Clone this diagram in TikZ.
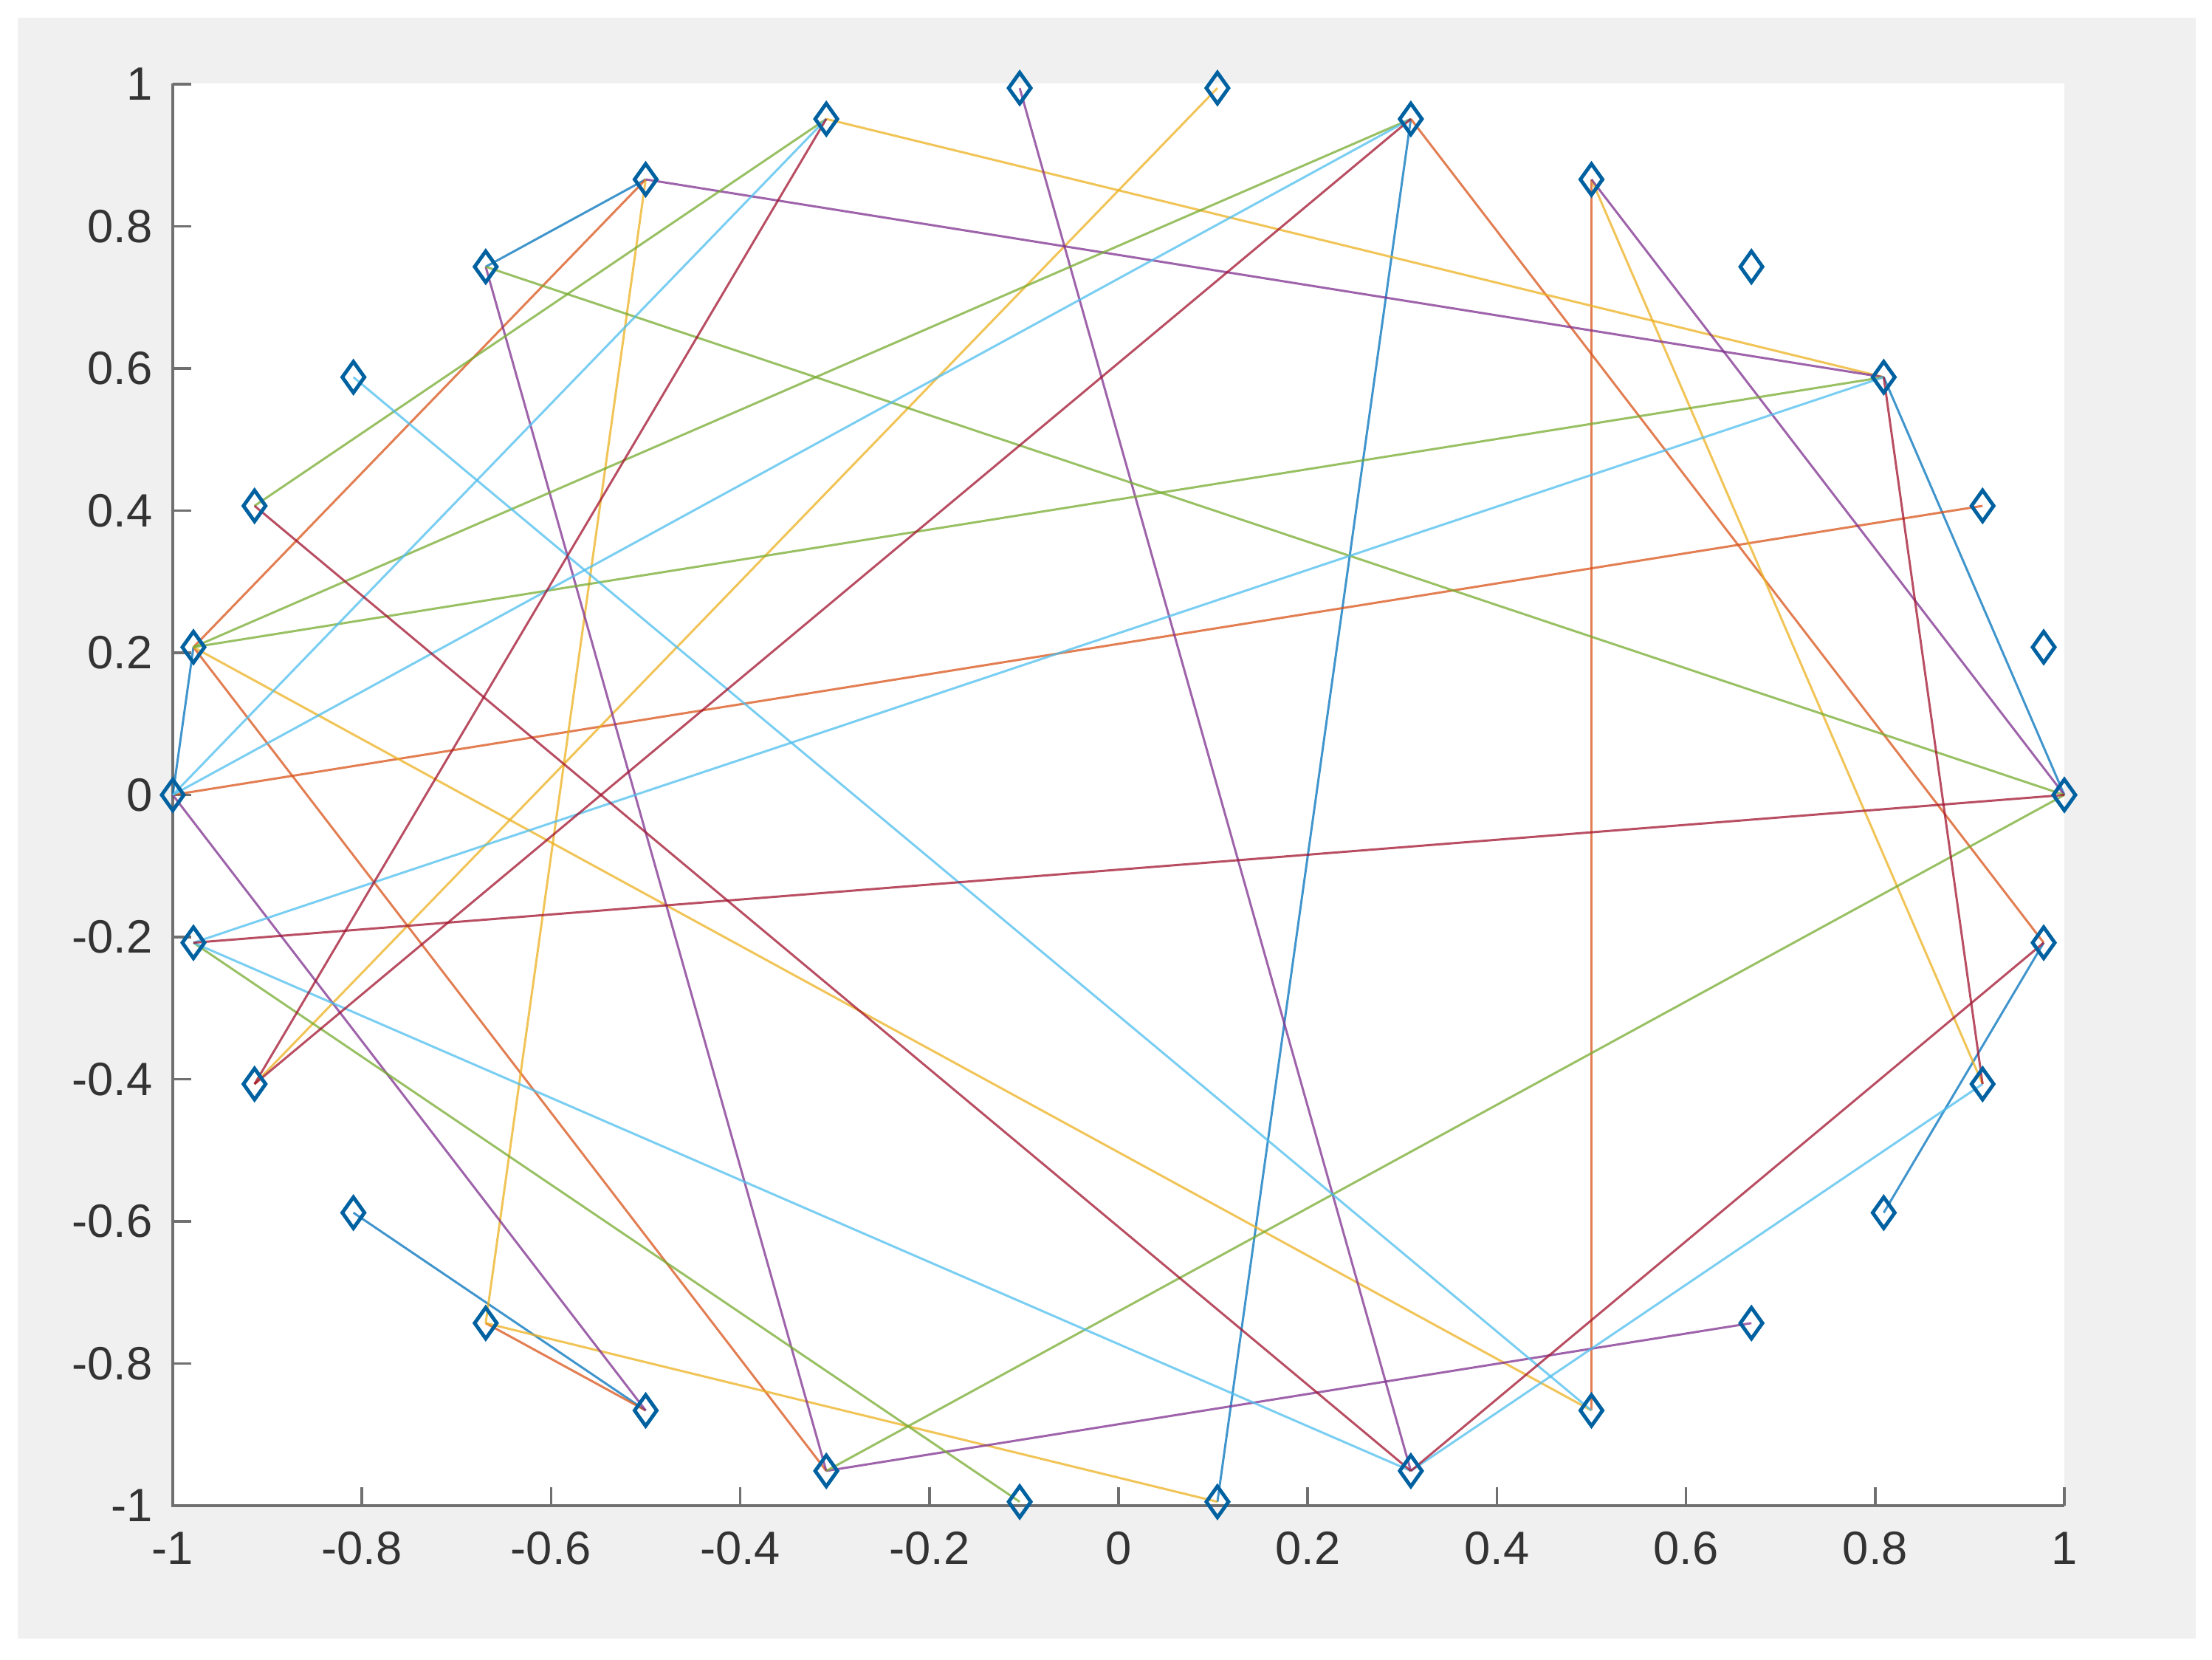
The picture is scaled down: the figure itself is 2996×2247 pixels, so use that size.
\documentclass[tikz,border=0pt]{standalone}
\usepackage{fontspec}
\setmainfont{Liberation Sans}
\usetikzlibrary{shapes.geometric}
\definecolor{mblue}{rgb}{0,0.447,0.741}
\definecolor{morange}{rgb}{0.85,0.325,0.098}
\definecolor{myellow}{rgb}{0.929,0.694,0.125}
\definecolor{mpurple}{rgb}{0.494,0.184,0.556}
\definecolor{mgreen}{rgb}{0.466,0.674,0.188}
\definecolor{mcyan}{rgb}{0.301,0.745,0.933}
\definecolor{mred}{rgb}{0.635,0.078,0.184}
\definecolor{figbg}{HTML}{F0F0F0}
\definecolor{axcol}{HTML}{707070}
\definecolor{lblcol}{HTML}{333333}
\pgfdeclarelayer{back}
\pgfdeclarelayer{edges}
\pgfsetlayers{back,edges,main}
\begin{document}
\begin{tikzpicture}[x=0.01cm,y=-0.01cm,
  marker/.style={draw=mblue!85!black,diamond,minimum width=0.32cm,minimum height=0.44cm,inner sep=0pt,line width=1.4pt},
  edge/.style={line width=0.85pt,opacity=0.75},
  axisline/.style={draw=axcol,line width=1.2pt},
  tick/.style={draw=axcol,line width=1pt},
  lbl/.style={text=lblcol,inner sep=0pt,font=\fontsize{18pt}{20pt}\selectfont}]
\useasboundingbox (0,0) rectangle (2996,2247);
\begin{pgfonlayer}{back}
  \fill[white] (0,0) rectangle (2996,2247);
  \fill[figbg] (24,24) rectangle (2974,2219);
  \fill[white] (234,113) rectangle (2796,2039);
  % ticks
  \foreach \v in {-1,-0.8,-0.6,-0.4,-0.2,0,0.2,0.4,0.6,0.8,1}{
    \draw[tick] (234,{1076.5-962.5*\v}) -- (259,{1076.5-962.5*\v});
    \draw[tick] ({1515+1281*\v},2039) -- ({1515+1281*\v},2014);
  }
  \draw[axisline] (234,113) -- (234,2039) -- (2796,2039);
\end{pgfonlayer}
% tick labels
\foreach \v/\t in {-1/-1,-0.8/-0.8,-0.6/-0.6,-0.4/-0.4,-0.2/-0.2,0/0,0.2/0.2,0.4/0.4,0.6/0.6,0.8/0.8,1/1}{
  \node[lbl,anchor=east] (yl\t) at (207,{1076.5-962.5*\v}) {\t};
  \node[lbl,anchor=center] (xl\t) at ({1515+1281*\v},2097) {\t};
}
% markers
\foreach \k in {0,...,29}{
  \node[marker] (p\k) at ({1515+1281*cos(12*\k)},{1076.5-962.5*sin(12*\k)}) {};
}
\begin{pgfonlayer}{edges}
  \foreach \a/\b in {10/11,3/0,6/23,14/15,18/20,27/29}
    \draw[edge,mblue] (p\a.center) -- (p\b.center);
  \foreach \a/\b in {10/14,6/29,5/25,15/2,14/21,19/20}
    \draw[edge,morange] (p\a.center) -- (p\b.center);
  \foreach \a/\b in {10/19,9/3,7/17,5/28,14/25,19/23}
    \draw[edge,myellow] (p\a.center) -- (p\b.center);
  \foreach \a/\b in {10/3,11/21,8/24,5/0,15/20,21/26}
    \draw[edge,mpurple] (p\a.center) -- (p\b.center);
  \foreach \a/\b in {9/13,14/6,14/3,11/0,0/21,16/22}
    \draw[edge,mgreen] (p\a.center) -- (p\b.center);
  \foreach \a/\b in {9/15,15/6,16/3,12/25,16/24,28/24}
    \draw[edge,mcyan] (p\a.center) -- (p\b.center);
  \foreach \a/\b in {9/17,6/17,0/16,3/28,13/24,29/24}
    \draw[edge,mred] (p\a.center) -- (p\b.center);
\end{pgfonlayer}
\end{tikzpicture}
\end{document}
